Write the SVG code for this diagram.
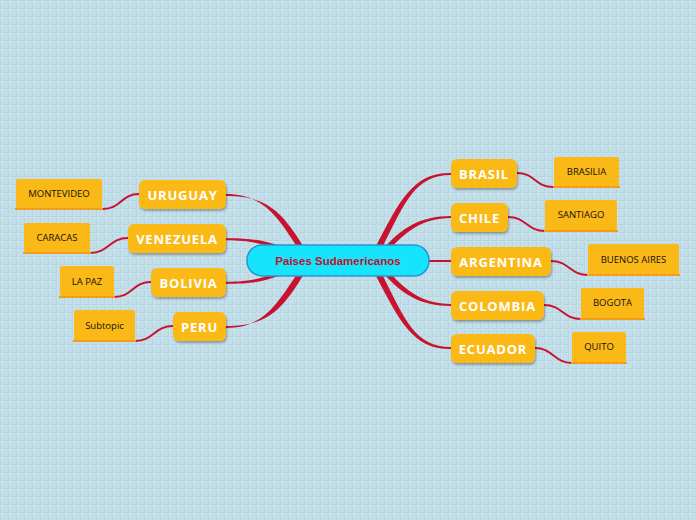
<svg xmlns="http://www.w3.org/2000/svg" width="696" height="520" viewBox="0 0 696 520">
<defs>
<pattern id="grid" width="8" height="8" patternUnits="userSpaceOnUse">
<rect width="8" height="8" fill="#c2dee9"/>
<path d="M0,0.5H8M0.5,0V8" stroke="#b6d3e0" stroke-width="1" fill="none"/>
<path d="M0,1.5H8M1.5,0V8" stroke="#c9e3ed" stroke-width="1" fill="none"/>
</pattern>
<filter id="sh" x="-10%" y="-20%" width="130%" height="150%">
<feDropShadow dx="1" dy="2" stdDeviation="1" flood-color="#000" flood-opacity="0.3"/>
</filter>
</defs>
<style>
.main rect{fill:#fbb917;filter:url(#sh)}
.main text{fill:#fff;font-family:"Open Sans","Liberation Sans",sans-serif;font-weight:bold;font-size:13px;letter-spacing:0.8px;text-anchor:middle}
.sub rect{fill:#fbb917}
.sub line{stroke:#f39c1c;stroke-width:2}
.sub text{fill:#111;font-family:"Open Sans","Liberation Sans",sans-serif;font-size:9.5px;text-anchor:middle}
.taper{fill:#c8132f}
.link{fill:none;stroke:#c8132f;stroke-width:2}
</style>
<rect width="696" height="520" fill="url(#grid)"/>
<g id="connectors">
<path class="taper" d="M451,173 C413,172.5 400,200 375,248 L382,248 C405,202 415,175 451,175 Z"/>
<path class="taper" d="M451,216 C420,216 402,228 384,248 L391,248 C406,232 422,218 451,218 Z"/>
<path class="link" d="M425,261 L451,261" stroke-width="1.5"/>
<path class="taper" d="M391,274 C406,290 422,304 451,304 L451,306 C420,306 402,294 384,274 Z"/>
<path class="taper" d="M382,274 C405,320 415,347 451,347 L451,349 C413,349.5 400,322 375,274 Z"/>
<path class="taper" d="M226,194 C262,194 277,215 297,247 L304,247 C282,212 268,196 226,196 Z"/>
<path class="taper" d="M226,238.2 C250,238 262,240 280,246 L280,249.5 C262,244 250,240.2 226,240.2 Z"/>
<path class="taper" d="M226,281.8 C250,281.8 262,278 280,272 L280,275.5 C262,282 250,283.8 226,283.8 Z"/>
<path class="taper" d="M226,326 C268,326 282,310 304,274 L297,274 C275,307 262,328 226,328 Z"/>
<path class="link" d="M517,173 C535,173 535,187 553,187"/>
<path class="link" d="M508,217 C526,217 527,231 545,231"/>
<path class="link" d="M551,261 C569,261 570,275 588,275"/>
<path class="link" d="M544,305 C562,305 563,319 581,319"/>
<path class="link" d="M535,348 C553,348 554,363 572,363"/>
<path class="link" d="M139,194 C121,194 121,209 103,209"/>
<path class="link" d="M128,238 C109,238 109,253 90,253"/>
<path class="link" d="M151,282 C132,282 133,297 114,297"/>
<path class="link" d="M173,326 C154,326 154,341 135,341"/>
</g>
<g id="center">
<rect x="247" y="245" width="182" height="31" rx="15" fill="#16e4fb" stroke="#2b92d3" stroke-width="1.5"/>
<text x="338" y="265" fill="#c0102c" font-family="Liberation Sans,Arial,sans-serif" font-weight="bold" font-size="11.5" text-anchor="middle">Paises Sudamericanos</text>
</g>
<g id="brasil" class="main"><rect x="451" y="159" width="66" height="29" rx="6"/><text x="484" y="179">BRASIL</text></g>
<g id="chile" class="main"><rect x="451" y="203" width="57" height="29" rx="6"/><text x="479.5" y="223">CHILE</text></g>
<g id="argentina" class="main"><rect x="451" y="247" width="100" height="29" rx="6"/><text x="501" y="267">ARGENTINA</text></g>
<g id="colombia" class="main"><rect x="451" y="291" width="93" height="29" rx="6"/><text x="497.5" y="311">COLOMBIA</text></g>
<g id="ecuador" class="main"><rect x="451" y="334" width="84" height="29" rx="6"/><text x="493" y="354">ECUADOR</text></g>
<g id="uruguay" class="main"><rect x="139" y="180" width="87" height="29" rx="6"/><text x="182.5" y="200">URUGUAY</text></g>
<g id="venezuela" class="main"><rect x="128" y="224" width="98" height="29" rx="6"/><text x="177" y="244">VENEZUELA</text></g>
<g id="bolivia" class="main"><rect x="151" y="268" width="75" height="29" rx="6"/><text x="188.5" y="288">BOLIVIA</text></g>
<g id="peru" class="main"><rect x="173" y="312" width="53" height="29" rx="6"/><text x="199.5" y="332">PERU</text></g>
<g id="brasilia" class="sub"><rect x="554" y="157" width="65" height="30" rx="2"/><line x1="553" y1="187" x2="620" y2="187"/><text x="586.5" y="175">BRASILIA</text></g>
<g id="santiago" class="sub"><rect x="545" y="200" width="72" height="31" rx="2"/><line x1="544" y1="231" x2="618" y2="231"/><text x="581" y="218">SANTIAGO</text></g>
<g id="buenosaires" class="sub"><rect x="588" y="244" width="91" height="31" rx="2"/><line x1="587" y1="275" x2="680" y2="275"/><text x="633.5" y="263">BUENOS AIRES</text></g>
<g id="bogota" class="sub"><rect x="581" y="288" width="63" height="31" rx="2"/><line x1="580" y1="319" x2="645" y2="319"/><text x="612.5" y="306">BOGOTA</text></g>
<g id="quito" class="sub"><rect x="572" y="332" width="54" height="31" rx="2"/><line x1="571" y1="363" x2="627" y2="363"/><text x="599" y="350">QUITO</text></g>
<g id="montevideo" class="sub"><rect x="16" y="179" width="86" height="30" rx="2"/><line x1="15" y1="209" x2="103" y2="209"/><text x="59" y="197">MONTEVIDEO</text></g>
<g id="caracas" class="sub"><rect x="24" y="223" width="66" height="30" rx="2"/><line x1="23" y1="253" x2="91" y2="253"/><text x="57" y="241">CARACAS</text></g>
<g id="lapaz" class="sub"><rect x="60" y="266" width="54" height="31" rx="2"/><line x1="59" y1="297" x2="115" y2="297"/><text x="87" y="285">LA PAZ</text></g>
<g id="subtopic" class="sub"><rect x="74" y="310" width="61" height="31" rx="2"/><line x1="73" y1="341" x2="136" y2="341"/><text x="104.5" y="329">Subtopic</text></g>
</svg>
